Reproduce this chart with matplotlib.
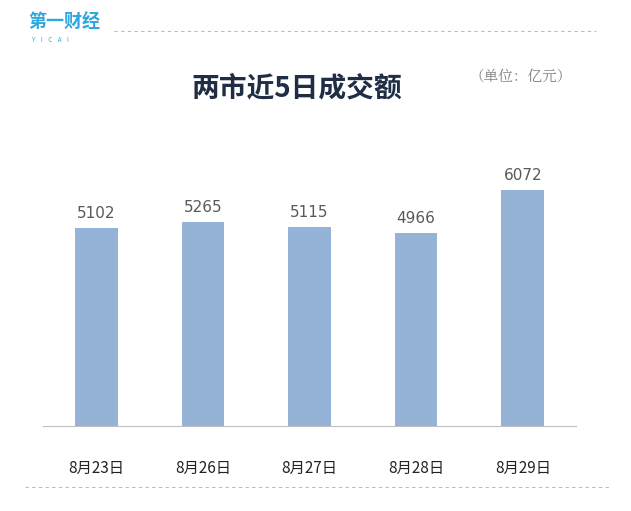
import matplotlib
matplotlib.use("Agg")
import matplotlib.pyplot as plt

categories = ["8月23日", "8月26日", "8月27日", "8月28日", "8月29日"]
values = [5102, 5265, 5115, 4966, 6072]

plt.rcParams['font.family'] = ['Noto Sans CJK SC', 'DejaVu Sans']
fig = plt.figure(figsize=(6.31, 5.11), dpi=100)
ax = fig.add_axes([0.068, 0.166, 0.845, 0.540])
x = range(len(categories))
ax.bar(x, values, width=0.4, color="#95b3d7")
for i, v in zip(x, values):
    ax.text(i, v + 180, str(v), ha="center", va="bottom", fontsize=11, color="#595959",
            family=['DejaVu Sans'])
ax.set_xlim(-0.5, 4.5)
ax.set_ylim(0, 7100)
ax.set_xticks(list(x))
ax.set_xticklabels(categories, fontsize=11, color="#222222")
ax.tick_params(axis="x", length=0, pad=24)
ax.set_yticks([])
for s in ["top", "left", "right"]:
    ax.spines[s].set_visible(False)
ax.spines["bottom"].set_color("#bfbfbf")

fig.text(0.47, 0.828, "两市近5日成交额", ha="center", va="center", fontsize=20, fontweight="bold", color="#1f2d45")
fig.text(0.825, 0.851, "（单位：亿元）", ha="center", va="center", fontsize=10.5, color="#808080",
         family=['Noto Serif CJK SC', 'Noto Sans CJK SC'])
fig.text(0.045, 0.957, "第一财经", ha="left", va="center", fontsize=13, fontweight="bold", color="#2ea7e0")
fig.text(0.05, 0.922, "Y    I    C    A    I", ha="left", va="center", fontsize=4.5, color="#2ea7e0")
fig.add_artist(plt.Line2D([0.18, 0.945], [0.94, 0.94], transform=fig.transFigure, color="#bbbbbb", lw=0.8, ls=(0, (3, 3))))
fig.add_artist(plt.Line2D([0.04, 0.965], [0.047, 0.047], transform=fig.transFigure, color="#bbbbbb", lw=0.8, ls=(0, (3, 3))))
fig.savefig("out.png", dpi=100)
